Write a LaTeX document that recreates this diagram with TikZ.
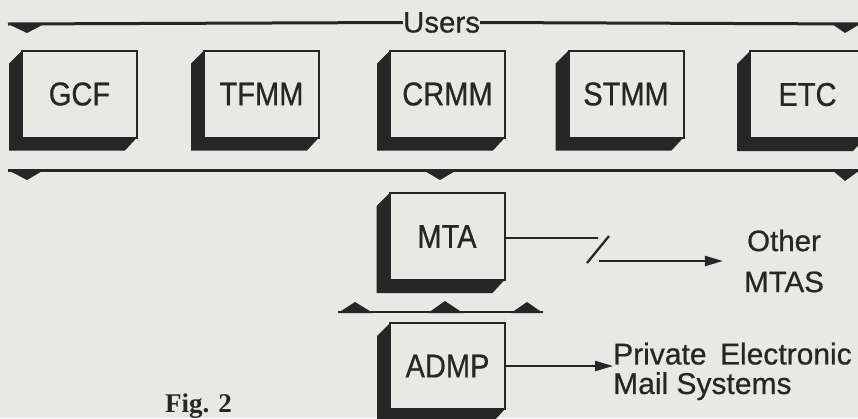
\documentclass[tikz,border=0pt]{standalone}
\usepackage{fontspec}
\setmainfont[FakeBold=0.6]{Liberation Sans}
\newfontfamily\boxfont[FakeStretch=0.88,FakeBold=0.6]{Liberation Sans}
\newfontfamily\figfont{Liberation Serif}
\usetikzlibrary{calc,arrows.meta}
\definecolor{paper}{RGB}{232,232,228}
\definecolor{ink}{RGB}{38,38,38}
\tikzset{
  modbox/.style={draw=ink, line width=2pt, fill=paper, minimum width=115pt,
    minimum height=87pt, inner sep=0pt, outer sep=0pt,
    font=\boxfont\fontsize{33}{36}\selectfont, text=ink},
  bus/.style={draw=ink, line width=3pt},
  wedge/.style={fill=ink},
  conn/.style={draw=ink, line width=2.3pt},
  arr/.style={conn, -{Triangle[length=18pt,width=10pt]}},
  lbl/.style={font=\fontsize{29.5}{41}\selectfont, text=ink, inner sep=0pt},
  shade/.style={fill=ink},
}
\newcommand\boxshade[1]{%
  \fill[shade] (#1.north west) -- ++(-13,13) -- ($(#1.south west)+(-13,13)$)
    -- ($(#1.south east)+(-12,13)$) -- (#1.south east) -- (#1.south west) -- cycle;}
\begin{document}
\begin{tikzpicture}[x=1pt,y=-1pt]
\useasboundingbox (0,0) rectangle (858,418);
\clip (0,0) rectangle (858,418);
\fill[paper] (0,0) rectangle (858,418);

% top bus with Users label
\node[lbl] (users) at (441.5,22.5) {Users};
\coordinate (t1) at (8,24);
\coordinate (t2) at (862,24);
\draw[bus] (t1) -- (users.west);
\draw[bus] (users.east) -- (t2);
\fill[wedge] (8,24) -- (44,24) -- (27,33) -- cycle;
\fill[wedge] (832,24) -- (860,24) -- (845,33) -- cycle;

% user agent boxes
\node[modbox] (gcf)  at (79.5,94)  {GCF};
\node[modbox] (tfmm) at (261.5,94) {TFMM};
\node[modbox] (crmm) at (447.5,94) {CRMM};
\node[modbox] (stmm) at (626,94)   {STMM};
\node[modbox] (etc)  at (807.5,94.5) {ETC};
\boxshade{gcf}\boxshade{tfmm}\boxshade{crmm}\boxshade{stmm}\boxshade{etc}

% lower bus
\coordinate (b1) at (8,170);
\coordinate (b2) at (862,170);
\draw[bus] (b1) -- (b2);
\fill[wedge] (8,170) -- (44,170) -- (27,180) -- cycle;
\fill[wedge] (423,170) -- (457,170) -- (440,180) -- cycle;
\fill[wedge] (832,170) -- (860,170) -- (845,181) -- cycle;

% MTA
\node[modbox] (mta) at (447,236.5) {MTA};
\boxshade{mta}

% bar between MTA and ADMP
\coordinate (m1) at (338,312);
\coordinate (m2) at (543,312);
\draw[conn, line width=2.6pt] (m1) -- (m2);
\fill[wedge] (338,313) -- (373,313) -- (355,302) -- cycle;
\fill[wedge] (428,313) -- (463,313) -- (445,301) -- cycle;
\fill[wedge] (511,313) -- (543,313) -- (527,302) -- cycle;

% ADMP
\node[modbox, minimum height=86pt] (admp) at (447.5,366) {ADMP};
\boxshade{admp}

% Other MTAS
\node[lbl, align=center, anchor=north] (other) at (784,229.5) {Other\\MTAS};
\coordinate (brkA) at (598,238);
\coordinate (brkB) at (599,261);
\draw[conn] (mta.east |- brkA) -- (brkA);
\draw[conn] (587,263) -- (609,236);
\draw[arr, shorten >=21pt] (brkB) -- (brkB -| other.west);

% Private Electronic Mail Systems
\node[lbl, font=\fontsize{30}{29.5}\selectfont, align=left, anchor=north west] (priv)
  at (613,342.5) {Private\hspace{0.45em}Electronic\\Mail Systems};
\draw[arr] (admp.east) -- (admp.east -| priv.west);

% caption
\node[anchor=base west, inner sep=0pt, text=ink,
  font=\figfont\bfseries\fontsize{27}{30}\selectfont] (fig) at (165,412) {Fig. 2};
\end{tikzpicture}
\end{document}
